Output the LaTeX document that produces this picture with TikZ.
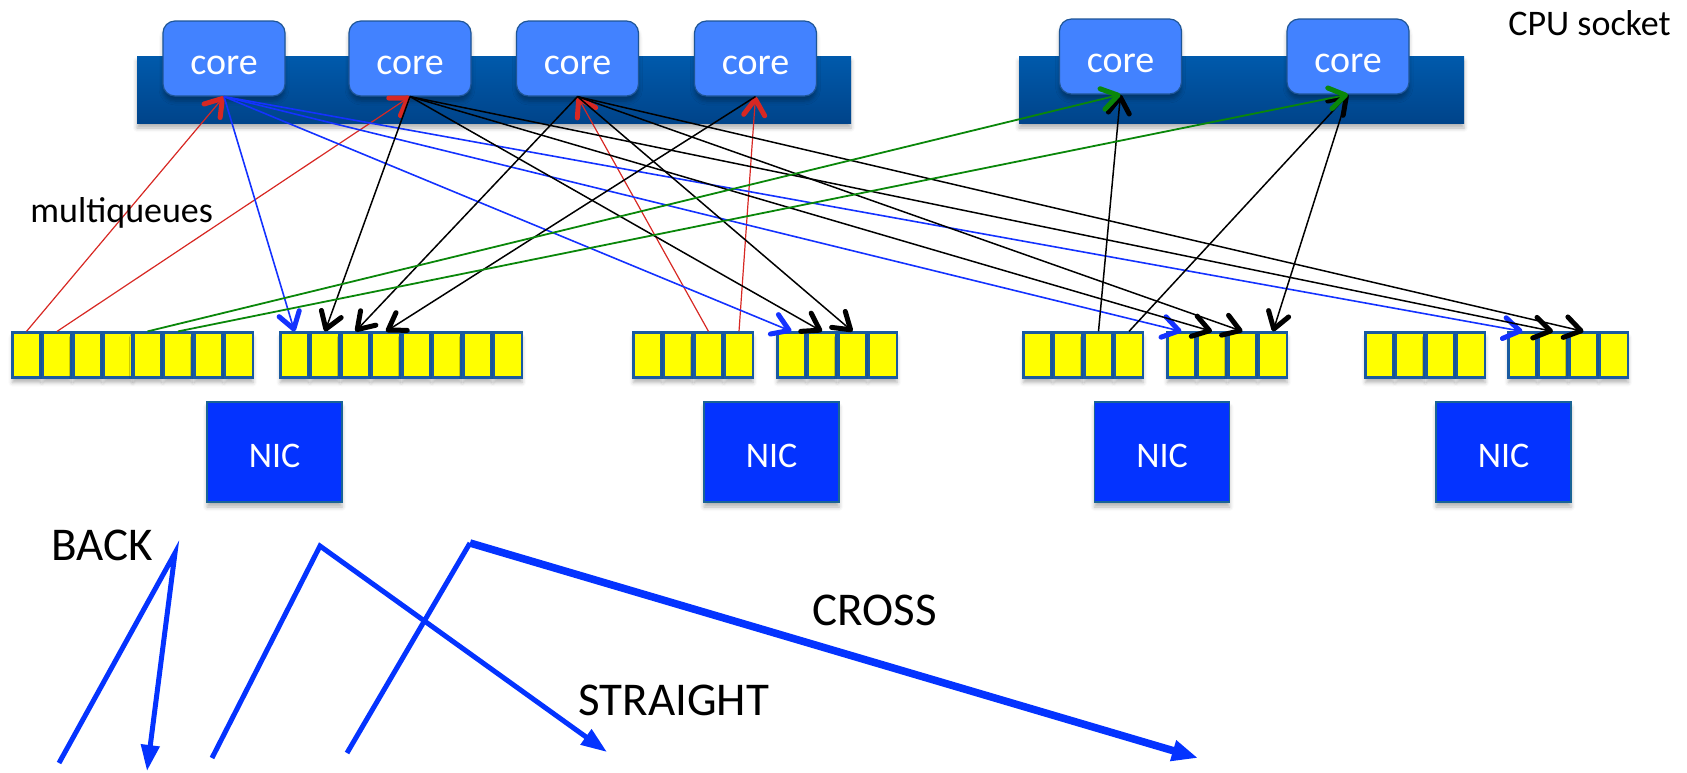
\documentclass[tikz,border=0pt]{standalone}
\usepackage{fontspec}
\setmainfont{Carlito}
\usetikzlibrary{arrows.meta,shadows.blur}

\definecolor{barTop}{RGB}{0,90,172}
\definecolor{barBot}{RGB}{0,68,138}
\definecolor{coreFill}{RGB}{66,130,255}
\definecolor{coreLine}{RGB}{30,85,150}
\definecolor{nicFill}{RGB}{4,51,255}
\definecolor{nicLine}{RGB}{25,100,150}
\definecolor{qLine}{RGB}{25,90,160}
\definecolor{qFill}{RGB}{255,255,0}
\definecolor{linkRed}{RGB}{215,40,35}
\definecolor{linkBlue}{RGB}{20,50,255}
\definecolor{linkGreen}{RGB}{10,135,10}

\begin{document}
\begin{tikzpicture}[x=0.5pt,y=-0.5pt,
  shad/.style={blur shadow={shadow xshift=0pt,shadow yshift=-2.5pt,shadow blur radius=2pt,shadow opacity=30}},
  socket/.style={shad,top color=barTop,bottom color=barBot,draw=none,inner sep=0pt},
  core/.style={shad,draw=coreLine,line width=0.6pt,fill=coreFill,rounded corners=6pt,
    minimum width=61pt,minimum height=37.5pt,inner sep=0pt,text=white,
    font=\fontsize{19pt}{21pt}\selectfont,text height=15.5pt,text depth=0pt},
  queue/.style={shad,draw=qLine,line width=1.1pt,fill=qFill,minimum width=14pt,
    minimum height=22.5pt,inner sep=0pt},
  nic/.style={shad,draw=nicLine,line width=0.6pt,fill=nicFill,minimum width=67.5pt,
    minimum height=50pt,inner sep=0pt,text=white,
    font=\fontsize{18pt}{20pt}\selectfont,text height=15pt,text depth=0pt},
  lbl/.style={anchor=base west,inner sep=0pt,font=\fontsize{18pt}{20pt}\selectfont},
  biglbl/.style={anchor=base west,inner sep=0pt,font=\fontsize{23.5pt}{26pt}\selectfont},
  barb/.style={-{Straight Barb[length=8pt,width=10.5pt,line width=2.5pt,round]}},
  redlink/.style={barb,draw=linkRed,line width=0.6pt},
  bluelink/.style={barb,draw=linkBlue,line width=0.8pt},
  blacklink/.style={barb,draw=black,line width=0.75pt},
  greenlink/.style={barb,draw=linkGreen,line width=0.9pt},
  bigarrow/.style={draw=nicFill,line width=2.5pt,line join=miter,
    -{Triangle[length=13pt,width=9pt]}}
]
\useasboundingbox (0,0) rectangle (1687,772);

% CPU sockets
\node[socket,minimum width=357pt,minimum height=33.5pt] (sock1) at (494,89.5) {};
\node[socket,minimum width=222.5pt,minimum height=33.5pt] (sock2) at (1241.5,89.5) {};

% cores
\node[core] (c1) at (224,58.5) {core};
\node[core] (c2) at (410,58.5) {core};
\node[core] (c3) at (577.5,58.5) {core};
\node[core] (c4) at (755.5,58.5) {core};
\node[core] (c5) at (1120.5,56.5) {core};
\node[core] (c6) at (1348,56.5) {core};

% receive / transmit queues, four per group
\foreach \g/\x in {A/12,B/133,C/280,D/402,E/633,F/777,G/1023,H/1167,I/1365,J/1508}{
  \foreach \i in {1,...,4}{
    \node[queue] (q\g\i) at ({\x+14.5+(\i-1)*30.5},355) {};
  }
}

% network cards
\node[nic] (n1) at (274.5,452) {NIC};
\node[nic] (n2) at (771.5,452) {NIC};
\node[nic] (n3) at (1162,452) {NIC};
\node[nic] (n4) at (1503.5,452) {NIC};

% queue <-> core links
\draw[redlink] (qA1.north) -- (c1.south);
\draw[redlink] (qA2.north) -- (c2.south);
\draw[redlink] (qE3.north) -- (c3.south);
\draw[redlink] (qE4.north) -- (c4.south);

\draw[bluelink] (c1.south) -- (qC1.north);
\draw[bluelink] (c1.south) -- (qF1.north);
\draw[bluelink] (c1.south) -- (qH1.north);
\draw[bluelink] (c1.south) -- (qJ1.north);

\draw[blacklink] (c2.south) -- (qC2.north);
\draw[blacklink] (c3.south) -- (qC3.north);
\draw[blacklink] (c4.south) -- (qC4.north);
\draw[blacklink] (c2.south) -- (qF2.north);
\draw[blacklink] (c3.south) -- (qF3.north);
\draw[blacklink] (c2.south) -- (qH2.north);
\draw[blacklink] (c3.south) -- (qH3.north);
\draw[blacklink] (c2.south) -- (qJ2.north);
\draw[blacklink] (c3.south) -- (qJ3.north);
\draw[blacklink] (c6.south) -- (qH4.north);
\draw[blacklink] (qG3.north) -- (c5.south);
\draw[blacklink] (qG4.north) -- (c6.south);

\draw[greenlink] (qB1.north) -- (c5.south);
\draw[greenlink] (qB2.north) -- (c6.south);

% labels
\node[lbl] (tsock) at (1508,35) {CPU socket};
\node[lbl] (tmq) at (30,222) {multiqueues};

% legend of path shapes
\coordinate (b0) at (59,763);
\coordinate (b1) at (175,553);
\coordinate (b2) at (147,771);
\draw[bigarrow] (b0) -- (b1) -- (b2);

\coordinate (s0) at (212,758);
\coordinate (s1) at (320,546);
\coordinate (s2) at (607,752);
\draw[bigarrow] (s0) -- (s1) -- (s2);

\coordinate (x0) at (347,753);
\coordinate (x1) at (470,543);
\coordinate (x2) at (1198,758);
\draw[draw=nicFill,line width=2.5pt] (x0) -- (x1);
\draw[bigarrow,line width=3.8pt,-{Triangle[length=13pt,width=10pt]}] (x1) -- (x2);

\node[biglbl] (tback) at (51,560) {BACK};
\node[biglbl] (tcross) at (812,625) {CROSS};
\node[biglbl] (tstraight) at (578,715) {STRAIGHT};
\end{tikzpicture}
\end{document}
